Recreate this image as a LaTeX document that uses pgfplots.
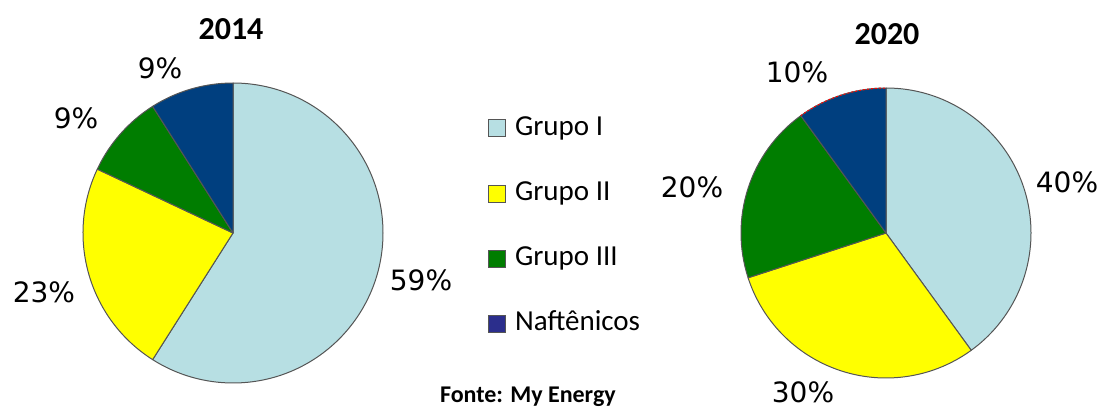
\documentclass[border=0pt]{standalone}
\usepackage{fontspec}
\setmainfont{Carlito}
\newfontfamily\dejavu{DejaVu Sans}
\usepackage{pgfplots}
\pgfplotsset{compat=1.18}
\definecolor{grI}{HTML}{B7DFE3}
\definecolor{grII}{HTML}{FFFF00}
\definecolor{grIII}{HTML}{007D00}
\definecolor{naft}{HTML}{003F7F}
\definecolor{naftleg}{HTML}{2B2E8C}
\definecolor{edge}{HTML}{555555}
% slice: cx, cy, radius (px), cumulative start (%), value (%), colour ; 1 px = 0.5bp
\newcommand\slice[6]{%
  \filldraw[fill=#6, draw=edge, line width=0.5bp, line join=round]
    (axis cs:#1,#2) -- ++({90-3.6*#4}:{#3*0.5bp})
    arc[start angle={90-3.6*#4}, delta angle={-3.6*#5}, radius={#3*0.5bp}] -- cycle;}
\begin{document}
\begin{tikzpicture}
\begin{axis}[
  hide axis, scale only axis, clip=false,
  width=550.5bp, height=204bp,
  xmin=0, xmax=1101, ymin=0, ymax=408,
  at={(0,0)}, anchor=origin,
  legend image code/.code={\filldraw[#1, draw=edge, line width=0.5bp] (0bp,-4.25bp) rectangle (8.5bp,4.25bp);},
  legend style={draw=none, fill=none, at={(0.4375,0.728)}, anchor=north west,
    font=\fontsize{14.5bp}{17bp}\selectfont, row sep=19.6bp, column sep=4.5bp,
    nodes={inner sep=0pt, text height=10bp, text depth=3bp, anchor=west}},
  legend cell align=left,
]
\addlegendimage{fill=grI}
\addlegendentry{Grupo I}
\addlegendimage{fill=grII}
\addlegendentry{Grupo II}
\addlegendimage{fill=grIII}
\addlegendentry{Grupo III}
\addlegendimage{fill=naftleg}
\addlegendentry{Naftênicos}
% 2014: 59, 23, 9, 9
\slice{233}{175}{150}{0}{59}{grI}
\slice{233}{175}{150}{59}{23}{grII}
\slice{233}{175}{150}{82}{9}{grIII}
\slice{233}{175}{150}{91}{9}{naft}
% 2020: 40, 30, 20, 10
\slice{886}{175}{145}{0}{40}{grI}
\slice{886}{175}{145}{40}{30}{grII}
\slice{886}{175}{145}{70}{20}{grIII}
\slice{886}{175}{145}{90}{10}{naft}
\draw[red, line width=0.5bp, dash pattern=on 1bp off 1bp] (axis cs:886,175) ++({90-3.6*90}:72.5bp) arc[start angle={90-3.6*90}, delta angle={-3.6*10}, radius=72.5bp];
% titles
\node[font=\fontsize{16bp}{19bp}\selectfont\bfseries] at (axis cs:231,379) {2014};
\node[font=\fontsize{16bp}{19bp}\selectfont\bfseries] at (axis cs:887,374) {2020};
% percentage labels
\begin{scope}[every node/.style={font=\dejavu\fontsize{14bp}{16bp}\selectfont}]
\node at (axis cs:421,128) {59\%};
\node at (axis cs:44,116) {23\%};
\node at (axis cs:76,290) {9\%};
\node at (axis cs:160,340) {9\%};
\node at (axis cs:1067,226) {40\%};
\node at (axis cs:803,16) {30\%};
\node at (axis cs:692,221) {20\%};
\node at (axis cs:797,336) {10\%};
\end{scope}
\node[anchor=west, font=\fontsize{12bp}{14bp}\selectfont\bfseries] at (axis cs:433,11) {Fonte: My Energy};
\end{axis}
\pgfresetboundingbox
\useasboundingbox (0,0) rectangle (550.5bp,204bp);
\end{tikzpicture}
\end{document}
